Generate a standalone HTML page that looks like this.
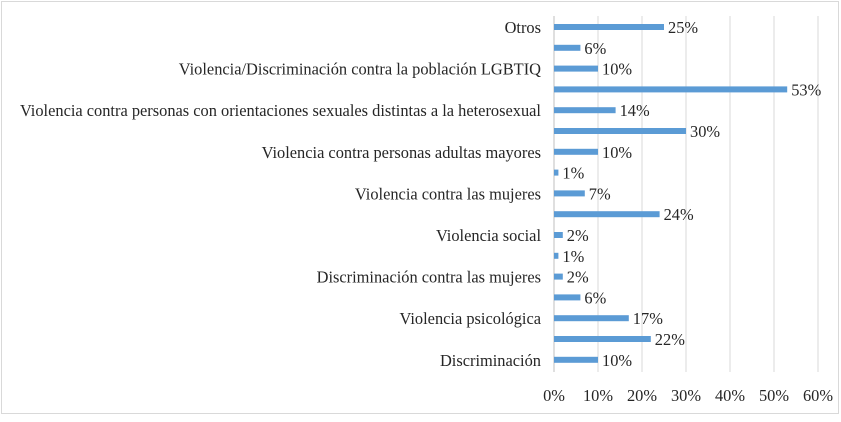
<!DOCTYPE html>
<html><head><meta charset="utf-8"><style>
body{margin:0;background:#fff;}
svg{font-family:"Liberation Serif",serif;}
</style></head><body>
<svg id="chart" width="841" height="417">
<rect x="1.5" y="1.5" width="837" height="412" fill="#fff" stroke="#d9d9d9"/>
<g id="grid"></g><g id="bars"></g><g id="labels"></g><g id="ticks"></g>
</svg>
<script>
const categories=["Otros","","Violencia/Discriminación contra la población LGBTIQ","","Violencia contra personas con orientaciones sexuales distintas a la heterosexual","","Violencia contra personas adultas mayores","","Violencia contra las mujeres","","Violencia social","","Discriminación contra las mujeres","","Violencia psicológica","","Discriminación"];
const values=[25,6,10,53,14,30,10,1,7,24,2,1,2,6,17,22,10];
const tickValues=[0,10,20,30,40,50,60];
const tickLabels=["0%","10%","20%","30%","40%","50%","60%"];
const NS="http://www.w3.org/2000/svg";
const x0=554,x1=818,xmax=60,yTop=27,step=20.8;
const xs=v=>x0+(v/xmax)*(x1-x0);
const ys=i=>yTop+i*step;
function mk(t,a,p){const e=document.createElementNS(NS,t);for(const k in a)e.setAttribute(k,a[k]);p.appendChild(e);return e;}
const grid=document.getElementById('grid'),bars=document.getElementById('bars'),labels=document.getElementById('labels'),ticks=document.getElementById('ticks');
tickValues.forEach((v,i)=>{
  const l=mk('line',{x1:xs(v),x2:xs(v),y1:16,y2:372,stroke:i===0?'#bfbfbf':'#d9d9d9','stroke-width':1},grid);
  
  
  const t=mk('text',{x:xs(v),y:401,'text-anchor':'middle','font-size':16.4,fill:'#262626'},ticks);
  t.textContent=tickLabels[i];
  
  
});
values.forEach((v,i)=>{
  const y=ys(i);
  const r=mk('rect',{x:xs(0),y:y-3,width:xs(v)-xs(0),height:6,fill:'#5b9bd5'},bars);
  
  
  const vt=mk('text',{x:xs(v)+4,y:y+6,'font-size':16.4,fill:'#262626'},labels);
  vt.textContent=v+'%';
  
  
  if(categories[i]){
    const ct=mk('text',{x:541,y:y+6,'text-anchor':'end','font-size':16.4,fill:'#262626'},labels);
    ct.textContent=categories[i];
    
    
  }
});
</script>
</body></html>
